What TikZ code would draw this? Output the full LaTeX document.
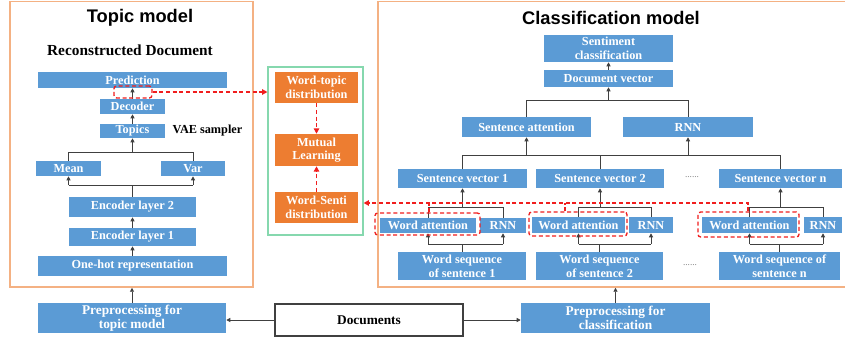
\documentclass[tikz,border=0pt]{standalone}
\usepackage{fontspec}
\setmainfont{Liberation Serif}
\newfontfamily\headfont{Liberation Sans}
\usetikzlibrary{arrows.meta}

\definecolor{boxblue}{HTML}{5B9BD5}
\definecolor{boxorange}{HTML}{ED7D31}
\definecolor{panelorange}{HTML}{F4B183}
\definecolor{panelgreen}{HTML}{86D8AE}
\definecolor{linegray}{HTML}{404040}
\definecolor{dashred}{HTML}{F01E1E}

% box given by its pixel corners: style, name, x1, y1, x2, y2, text
\newcommand\pxbox[7]{%
  \pgfmathsetmacro\bxw{(#5-#3)*0.75}%
  \pgfmathsetmacro\bxh{(#6-#4)*0.75}%
  \node[#1, minimum width=\bxw pt, minimum height=\bxh pt] (#2) at ({(#3+#5)/2},{(#4+#6)/2}) {#7};}

\tikzset{
  boxtext/.style={font=\bfseries\fontsize{9.2}{10.2}\selectfont},
  bluebox/.style={boxtext, fill=boxblue, draw=none, text=white, inner sep=0pt, align=center},
  orangebox/.style={boxtext, fill=boxorange, draw=none, text=white, inner sep=0pt, align=center},
  docbox/.style={font=\bfseries\fontsize{10}{11}\selectfont, fill=white, draw=linegray, line width=0.8pt, inner sep=0pt},
  panel/.style={draw=panelorange, line width=1.1pt, inner sep=0pt},
  greenframe/.style={draw=panelgreen, line width=0.8pt, inner sep=0pt},
  redframe/.style={draw=dashred, line width=1pt, dash pattern=on 3pt off 2pt, rounded corners=2pt, inner sep=0pt},
  conn/.style={draw=linegray, line width=0.7pt},
  arr/.style={conn, -{Triangle[length=3pt,width=3pt]}},
  rdline/.style={draw=dashred, line width=1pt, dash pattern=on 3pt off 2pt},
  rdarr/.style={rdline, -{Triangle[length=4pt,width=4pt,fill=dashred]}},
  dots/.style={text=gray, font=\fontsize{7}{8}\selectfont},
}

\begin{document}
\begin{tikzpicture}[x=0.75pt, y=-0.75pt]
\fill[white] (0,0) rectangle (845,343);
\useasboundingbox (0,0) rectangle (845,343);

% ---------------- panels ----------------
\pxbox{panel}{lp}{10}{1.5}{253}{287}{}
\pxbox{panel}{rp}{378}{1.5}{860}{287}{}
\node[font=\headfont\bfseries\fontsize{13.7}{15}\selectfont] (tmtitle) at (140,18) {Topic model};
\node[font=\headfont\bfseries\fontsize{13.7}{15}\selectfont] (cmtitle) at (611,18) {Classification model};

% ---------------- topic model ----------------
\node[font=\bfseries\fontsize{11.5}{13}\selectfont] (recdoc) at (130,50) {Reconstructed Document};
\pxbox{bluebox}{pred}{38}{72}{227}{88}{Prediction}
\pxbox{bluebox}{dec}{100}{99}{165}{114}{Decoder}
\pxbox{bluebox}{tops}{100}{124}{165}{138}{Topics}
\node[boxtext, anchor=west] (vae) at (168,131) {VAE sampler};
\pxbox{bluebox}{mean}{36}{161}{101}{176}{Mean}
\pxbox{bluebox}{var}{161}{161}{225}{176}{Var}
\pxbox{bluebox}{enc2}{69}{197}{196}{217}{Encoder layer 2}
\pxbox{bluebox}{enc1}{69}{228}{196}{246}{Encoder layer 1}
\pxbox{bluebox}{onehot}{38}{256}{227}{276}{One-hot representation}

\draw[arr] (dec.north) -- (pred.south);
\draw[arr] (tops.north) -- (dec.south);
\coordinate (jt) at (0,152);
\coordinate (jm) at (0,185);
\draw[conn] (mean.north) -- (mean.north |- jt) -- (var.north |- jt) -- (var.north);
\draw[arr] (tops.south |- jt) -- (tops.south);
\draw[conn] (mean.south |- jm) -- (var.south |- jm);
\draw[arr] (mean.south |- jm) -- (mean.south);
\draw[arr] (var.south |- jm) -- (var.south);
\draw[conn] (enc2.north) -- (enc2.north |- jm);
\draw[arr] (enc1.north) -- (enc2.south);
\draw[arr] (onehot.north) -- (enc1.south);

\pxbox{redframe}{rbz}{114}{86}{152}{98}{}

% ---------------- mutual learning ----------------
\pxbox{greenframe}{gf}{268}{67}{363}{235}{}
\pxbox{orangebox}{wtd}{275}{72}{358}{103}{Word-topic\\distribution}
\pxbox{orangebox}{mlr}{275}{134}{358}{166}{Mutual\\Learning}
\pxbox{orangebox}{wsd}{275}{192}{358}{223}{Word-Senti\\distribution}
\draw[rdarr] (wtd.south) -- (mlr.north);
\draw[rdarr] (wsd.north) -- (mlr.south);
\draw[rdarr] (rbz.east) -- (rbz.east -| gf.west);

% ---------------- classification model ----------------
\pxbox{bluebox}{sc}{544}{35}{673}{62}{Sentiment\\classification}
\pxbox{bluebox}{dv}{544}{70}{673}{87}{Document vector}
\pxbox{bluebox}{satt}{462}{117}{591}{137}{Sentence attention}
\pxbox{bluebox}{rnnt}{623}{117}{753}{137}{RNN}
\pxbox{bluebox}{sva}{398}{169}{527}{188}{Sentence vector 1}
\pxbox{bluebox}{svb}{536}{169}{664}{188}{Sentence vector 2}
\pxbox{bluebox}{svc}{719}{169}{842}{188}{Sentence vector n}
\node[dots] (dotsa) at (692,177) {......};

\pxbox{bluebox}{waa}{380}{218}{476}{233}{Word attention}
\pxbox{bluebox}{rna}{480}{218}{526}{233}{RNN}
\pxbox{bluebox}{wab}{532}{217}{625}{233}{Word attention}
\pxbox{bluebox}{rnb}{629}{217}{673}{233}{RNN}
\pxbox{bluebox}{wac}{702}{217}{797}{233}{Word attention}
\pxbox{bluebox}{rnc}{804}{217}{842}{233}{RNN}

\pxbox{bluebox}{wsa}{398}{252}{526}{280}{Word sequence\\of sentence 1}
\pxbox{bluebox}{wsb}{536}{252}{663}{280}{Word sequence\\of sentence 2}
\pxbox{bluebox}{wsc}{719}{252}{840}{280}{Word sequence of\\sentence n}
\node[dots] (dotsb) at (690,265) {......};

\draw[arr] (dv.north) -- (sc.south);
\coordinate (ja) at (0,100);
\draw[conn] (satt.north) -- (satt.north |- ja) -- (rnnt.north |- ja) -- (rnnt.north);
\draw[arr] (dv.south |- ja) -- (dv.south);
\coordinate (jb) at (0,155);
\draw[conn] (sva.north) -- (sva.north |- jb) -- (svc.north |- jb) -- (svc.north);
\draw[conn] (svb.north) -- (svb.north |- jb);
\draw[arr] (satt.south |- jb) -- (satt.south);
\draw[arr] (rnnt.south |- jb) -- (rnnt.south);

% word-level encoders under each sentence vector
\coordinate (ub) at (0,207);
\coordinate (lb) at (0,244);
\foreach \g in {a,b,c}{
  \draw[conn] (wa\g.north) -- (wa\g.north |- ub) -- (rn\g.north |- ub) -- (rn\g.north);
  \draw[arr] (sv\g.south |- ub) -- (sv\g.south);
  \draw[conn] (wa\g.south |- lb) -- (rn\g.south |- lb);
  \draw[arr] (wa\g.south |- lb) -- (wa\g.south);
  \draw[arr] (rn\g.south |- lb) -- (rn\g.south);
  \draw[conn] (ws\g.north) -- (ws\g.north |- lb);
}

% attention weights passed to the mutual learning block
\pxbox{redframe}{rba}{375}{213}{480}{235}{}
\pxbox{redframe}{rbb}{529}{212}{627}{236}{}
\pxbox{redframe}{rbc}{698}{212}{799}{237}{}
\coordinate (da) at (429,203);
\coordinate (db) at (565,203);
\coordinate (dc) at (748,203);
\draw[rdarr] (dc |- rbc.north) -- (dc) -- (dc -| gf.east);
\draw[rdline] (da |- rba.north) -- (da);
\draw[rdline] (db |- rbb.north) -- (db);

% ---------------- preprocessing ----------------
\pxbox{bluebox}{prea}{38}{303}{226}{333}{\fontsize{10}{11}\selectfont Preprocessing for\\\fontsize{10}{11}\selectfont topic model}
\pxbox{docbox}{docs}{275}{304}{463}{336}{Documents}
\pxbox{bluebox}{preb}{521}{303}{710}{333}{\fontsize{10}{11}\selectfont Preprocessing for\\\fontsize{10}{11}\selectfont classification}
\draw[arr] (docs.west) -- (docs.west -| prea.east);
\draw[arr] (docs.east) -- (docs.east -| preb.west);
\draw[arr] (prea.north) -- (prea.north |- lp.south);
\draw[arr] (preb.north) -- (preb.north |- rp.south);
\end{tikzpicture}
\end{document}
